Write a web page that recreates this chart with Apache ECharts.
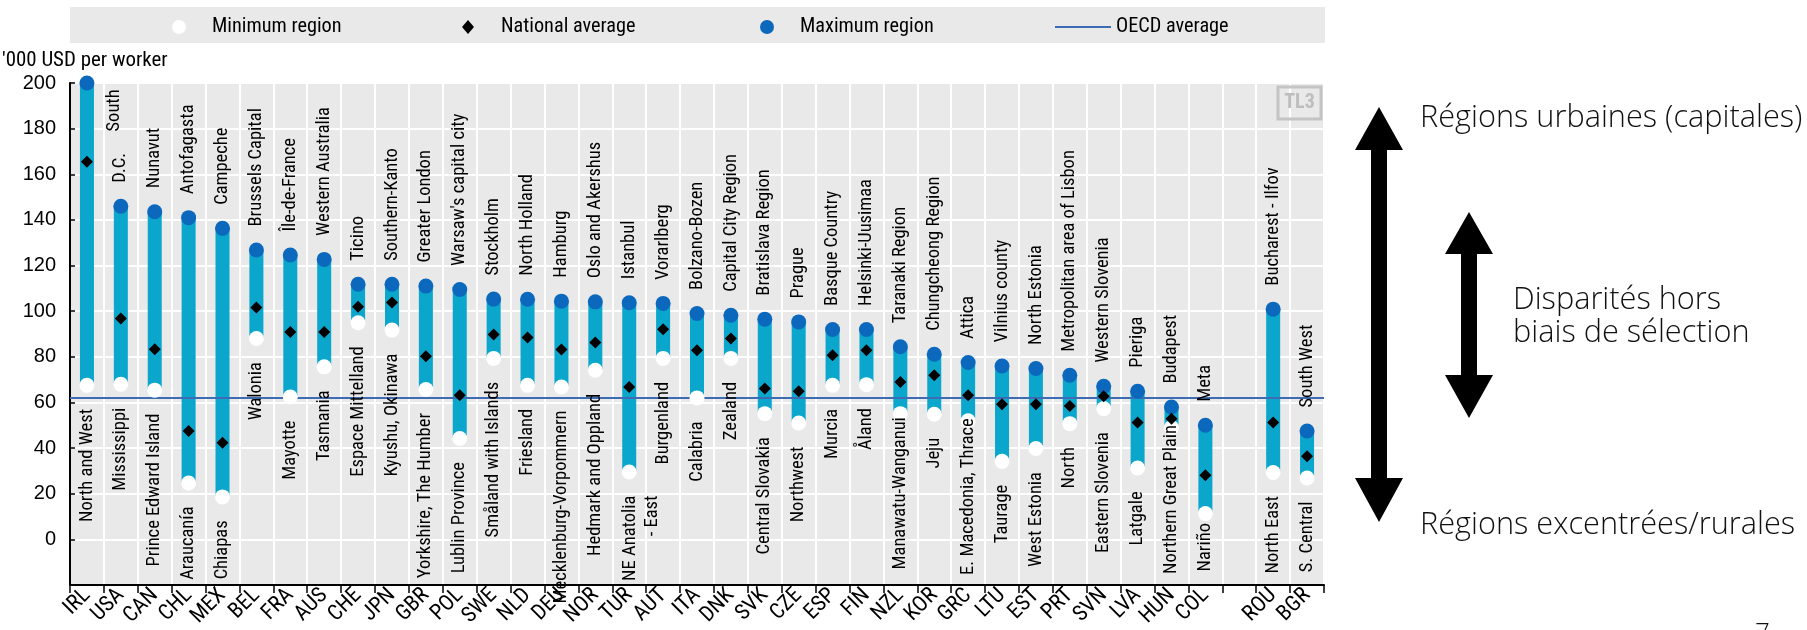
<!DOCTYPE html>
<html><head><meta charset="utf-8">
<script src="https://cdn.jsdelivr.net/npm/echarts@6/dist/echarts.min.js"></script>
<style>html,body{margin:0;padding:0;background:#fff}#c{width:1807px;height:630px}</style>
</head><body><div id="c"></div>
<script>
// ---------- DATA ----------
const categories = ['IRL','USA','CAN','CHL','MEX','BEL','FRA','AUS','CHE','JPN','GBR','POL','SWE','NLD','DEU','NOR','TUR','AUT','ITA','DNK','SVK','CZE','ESP','FIN','NZL','KOR','GRC','LTU','EST','PRT','SVN','LVA','HUN','COL','','ROU','BGR'];
const maxValues = [200,146,143.6,141,136.3,126.8,124.6,122.7,111.8,111.8,111,109.5,105.3,105.2,104.4,104.1,103.7,103.4,99,98.2,96.5,95.3,92,92,84.4,81.1,77.5,76,74.9,71.9,67.1,64.9,58,50,null,100.9,47.5];
const natValues = [165.5,96.8,83.3,47.5,42.3,101.6,90.9,90.9,101.9,103.8,80.3,63.2,89.8,88.5,83.2,86.3,66.8,92.1,82.9,88,66.1,64.9,80.7,82.9,69,71.9,63.2,59.2,59.2,58.5,62.7,51.2,52.9,28.1,null,51.2,36.4];
const minValues = [67.5,68,65.4,24.7,18.6,88,62.4,75.6,94.9,91.7,65.7,44.2,79.3,67.5,66.8,74.1,29.5,79.3,62,79.3,55.1,51,67.5,67.8,55.1,54.8,52,34.2,39.8,50.7,57.3,31.3,49,11.3,null,29.3,26.9];
const maxRegions = ['South','D.C.','Nunavut','Antofagasta','Campeche','Brussels Capital','Île-de-France','Western Australia','Ticino','Southern-Kanto','Greater London',"Warsaw's capital city",'Stockholm','North Holland','Hamburg','Oslo and Akershus','Istanbul','Vorarlberg','Bolzano-Bozen','Capital City Region','Bratislava Region','Prague','Basque Country','Helsinki-Uusimaa','Taranaki Region','Chungcheong Region','Attica','Vilnius county','North Estonia','Metropolitan area of Lisbon','Western Slovenia','Pieriga','Budapest','Meta','','Bucharest - Ilfov','South West'];
const minRegions = ['North and West','Mississippi','Prince Edward Island','Araucanía','Chiapas','Walonia','Mayotte','Tasmania','Espace Mittelland','Kyushu, Okinawa','Yorkshire, The Humber','Lublin Province','Småland with Islands','Friesland','Mecklenburg-Vorpommern','Hedmark and Oppland','NE Anatolia\n- East','Burgenland','Calabria','Zealand','Central Slovakia','Northwest','Murcia','Åland','Manawatu-Wanganui','Jeju','E. Macedonia, Thrace','Taurage','West Estonia','North','Eastern Slovenia','Latgale','Northern Great Plain','Nariño','','North East','S. Central'];
const oecdAverage = 62;
const yMin = -20, yMax = 200, yStep = 20;
const seriesNames = ['Minimum region','National average','Maximum region','OECD average'];
const unitLabel = "'000 USD per worker";
const sideTexts = ['Régions urbaines (capitales)','Disparités hors','biais de sélection','Régions excentrées/rurales','7'];

// ---------- FONTS (pick an installed condensed face, size it to the reference widths) ----------
const cv = document.createElement('canvas').getContext('2d');
function tw(font, s){ cv.font = font; return cv.measureText(s).width; }
function has(f){ const s='abcdefghijklmnopqrstuvwxyzABCDEFGH'; return tw('40px monospace',s) !== tw('40px "'+f+'",monospace',s); }
const narrowName = ['Liberation Sans Narrow','Arial Narrow','Roboto Condensed','DejaVu Sans Condensed','Liberation Sans'].find(has) || 'sans-serif';
const NARROW = '"'+narrowName+'",sans-serif';
const ARIAL = '"Liberation Sans",Arial,sans-serif';
const lightName = ['Open Sans','Lato','Liberation Sans'].find(has) || 'sans-serif';
const LIGHT = '"'+lightName+'",sans-serif';
function fit(fam, weight, text, target, maxSize){ const s = 20*target/tw(weight+' 20px '+fam, text); return Math.min(maxSize, Math.round(s*10)/10); }
const labelSize = fit(NARROW, '', 'Mississippi', 83, 22);
const tickSize = fit(NARROW, '', 'ROU', 37, 24);
const legendSize = fit(NARROW, '', 'Minimum region', 130, 23);
const unitSize = fit(NARROW, '', unitLabel, 166, 23);
const sideSize = fit(LIGHT, '300', sideTexts[0], 383, 32);

// ---------- STYLE ----------
const barColor = '#0aa6cc', maxColor = '#0b68bd', oecdColor = '#3d6cb5';
const minLabelDistance = {NZL: -4, GRC: -10, HUN: -10, COL: 2};
const legendLefts = [167, 457, 755, 1050];
const legendIcons = [
  {icon:'circle', itemStyle:{color:'#fff', borderWidth:0}},
  {icon:'path://M6,0L12,7L6,14L0,7Z'},
  {icon:'circle'},
  {icon:'path://M0,0L56,0L56,2L0,2Z', itemStyle:{color:oecdColor}}
];

const chart = echarts.init(document.getElementById('c'));

const rangeData = categories.map((c,i)=> minValues[i]==null ? null : [i, minValues[i], maxValues[i]]).filter(Boolean);
const minData = categories.map((c,i)=>{
  if (minValues[i]==null) return null;
  const item = {value:[i, minValues[i]]};
  if (minLabelDistance[c] != null) item.label = {distance: minLabelDistance[c]};
  if (c === 'TUR') item.label = {lineHeight: labelSize+4, offset: [0, 12]};
  return item;
}).filter(Boolean);
const maxData = categories.map((c,i)=>{
  if (maxValues[i]==null) return null;
  const item = {value:[i, maxValues[i]]};
  if (c === 'IRL') item.label = {position: [35, 56]};
  return item;
}).filter(Boolean);
const natData = categories.map((c,i)=> natValues[i]==null ? null : [i, natValues[i]]).filter(Boolean);

const labelBase = {show:true, rotate:90, verticalAlign:'middle', color:'#000', fontFamily:NARROW, fontSize:labelSize};

const legends = seriesNames.map((n,k)=>({
  left:legendLefts[k], top:12, itemWidth:56, itemHeight:14, selectedMode:false, symbolKeepAspect:true,
  textStyle:{fontFamily:NARROW, fontSize:legendSize, color:'#000'},
  data:[Object.assign({name:n}, legendIcons[k])]
}));

chart.setOption({
  animation:false,
  backgroundColor:'#fff',
  textStyle:{fontFamily:NARROW},
  grid:{left:70, right:483, top:83, bottom:45, show:true, backgroundColor:'#e9e9e9', borderWidth:0},
  legend:legends,
  xAxis:{
    type:'category', data:categories, boundaryGap:true,
    axisLine:{show:true, onZero:false, lineStyle:{color:'#000', width:2}},
    axisTick:{show:true, length:8, lineStyle:{color:'#000', width:1.5}},
    axisLabel:{rotate:45, interval:0, margin:7, fontFamily:NARROW, fontSize:tickSize, color:'#000'},
    splitLine:{show:true, interval:0, lineStyle:{color:'#fff', width:2}}
  },
  yAxis:{
    type:'value', min:yMin, max:yMax, interval:yStep,
    axisLine:{show:true, lineStyle:{color:'#000', width:2}},
    axisTick:{show:true, inside:true, length:5, lineStyle:{color:'#000', width:1.5}},
    axisLabel:{fontFamily:ARIAL, fontSize:20, color:'#000', margin:14,
      formatter:v=> v < 0 ? '' : String(v)},
    splitLine:{show:true, lineStyle:{color:'#fff', width:2}}
  },
  series:[
    {
      type:'custom', name:'range', z:2, silent:true,
      data:rangeData, encode:{x:0, y:[1,2]},
      renderItem:(params, api)=>{
        const lo = api.coord([api.value(0), api.value(1)]);
        const hi = api.coord([api.value(0), api.value(2)]);
        const w = 14;
        return {type:'rect', shape:{x:lo[0]-w/2, y:hi[1], width:w, height:lo[1]-hi[1]}, style:{fill:barColor}};
      }
    },
    {
      type:'line', name:seriesNames[3], data:[], symbol:'none', z:3,
      lineStyle:{color:oecdColor, width:2}, itemStyle:{color:oecdColor},
      markLine:{silent:true, symbol:'none', z:3, label:{show:false},
        lineStyle:{color:oecdColor, width:2, type:'solid'},
        data:[{yAxis:oecdAverage}]}
    },
    {
      type:'scatter', name:seriesNames[0], z:6, symbol:'circle', symbolSize:15,
      itemStyle:{color:'#fff', opacity:1}, data:minData,
      label:Object.assign({}, labelBase, {position:'bottom', distance:16, align:'right',
        formatter:p=>minRegions[p.value[0]]})
    },
    {
      type:'scatter', name:seriesNames[2], z:6, symbol:'circle', symbolSize:15,
      itemStyle:{color:maxColor, opacity:1}, data:maxData,
      label:Object.assign({}, labelBase, {position:'top', distance:16, align:'left',
        formatter:p=>maxRegions[p.value[0]]})
    },
    {
      type:'scatter', name:seriesNames[1], z:7, symbol:'diamond', symbolSize:12,
      itemStyle:{color:'#000', opacity:1}, data:natData
    }
  ],
  graphic:[
    {type:'rect', left:70, top:7, z:-10, shape:{width:1255, height:36}, style:{fill:'#e9e9e9'}},
    {type:'text', left:2, top:50, style:{text:unitLabel, font:unitSize+'px '+NARROW, fill:'#000'}},
    {type:'rect', z:20, shape:{x:1278, y:87, width:43, height:32}, style:{fill:'none', stroke:'#c4c4c4', lineWidth:3}},
    {type:'text', z:20, x:1299.5, y:103, style:{text:'TL3', font:'bold 20px '+NARROW, fill:'#bdbdbd', align:'center', verticalAlign:'middle'}},
    {type:'polygon', z:20, shape:{points:[[1379,107],[1403,150],[1387,150],[1387,478],[1403,478],[1379,522],[1355,478],[1371,478],[1371,150],[1355,150]]}, style:{fill:'#000'}},
    {type:'polygon', z:20, shape:{points:[[1469,212],[1493,254],[1477,254],[1477,375],[1493,375],[1469,418],[1445,375],[1461,375],[1461,254],[1445,254]]}, style:{fill:'#000'}},
    {type:'text', z:20, x:1420, y:118, style:{text:sideTexts[0], font:'300 '+sideSize+'px '+LIGHT, fill:'#111', verticalAlign:'middle'}},
    {type:'text', z:20, x:1513, y:300, style:{text:sideTexts[1], font:'300 '+sideSize+'px '+LIGHT, fill:'#111', verticalAlign:'middle'}},
    {type:'text', z:20, x:1513, y:333, style:{text:sideTexts[2], font:'300 '+sideSize+'px '+LIGHT, fill:'#111', verticalAlign:'middle'}},
    {type:'text', z:20, x:1420, y:525, style:{text:sideTexts[3], font:'300 '+sideSize+'px '+LIGHT, fill:'#111', verticalAlign:'middle'}},
    {type:'text', z:20, x:1755, y:621, style:{text:sideTexts[4], font:'300 26px '+LIGHT, fill:'#111', verticalAlign:'top'}}
  ]
});
</script></body></html>
